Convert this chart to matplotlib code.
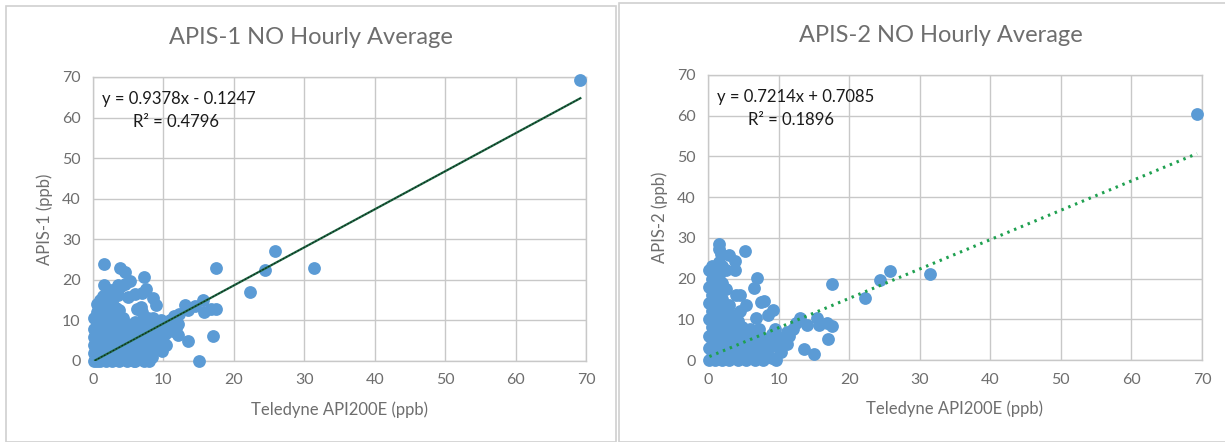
import numpy as np
import matplotlib
matplotlib.use("Agg")
from matplotlib import pyplot as plt
from matplotlib.patches import Rectangle

plt.rcParams["font.family"] = ["Lato", "DejaVu Sans"]

# APIS-1 vs Teledyne, hourly NO (ppb)
apis1_x = [69.2, 25.8, 24.4, 31.4, 22.3, 17.5, 17.0, 15.0, 13.5,
           17.5, 16.8, 15.6, 15.8, 14.5, 13.0, 13.5, 12.2, 11.5, 11.0, 12.0,
           11.3, 12.0, 11.8, 10.5, 10.0, 9.5, 9.8, 8.8, 9.0, 9.5, 8.5, 8.0,
           7.3, 7.9, 7.8, 8.3, 6.5, 5.8, 7.2, 7.5, 7.0, 8.5, 9.0, 6.8, 6.3,
           7.0, 6.0, 5.2, 4.5, 4.0, 3.5, 3.5, 5.0, 4.5, 3.8, 1.6, 1.6, 2.5,
           0.2, 0.2, 0.2, 0.2, 0.2, 0.2,
           0.6, 0.6, 0.6, 0.6, 0.6, 0.6, 0.6,
           1.0, 1.0, 1.0, 1.0, 1.0, 1.0, 1.0,
           1.4, 1.4, 1.4, 1.4, 1.4, 1.4, 1.4,
           1.8, 1.8, 1.8, 1.8, 1.8, 1.8,
           2.2, 2.2, 2.2, 2.2, 2.2, 2.2,
           2.7, 2.7, 2.7, 2.7, 2.7, 2.7,
           3.2, 3.2, 3.2, 3.2, 3.2,
           3.7, 3.7, 3.7, 3.7, 3.7,
           4.2, 4.2, 4.2, 4.2,
           4.8, 4.8, 4.8, 4.8,
           5.3, 5.3, 5.3,
           6.0, 6.0, 6.0, 6.0,
           6.6, 6.6, 6.6,
           7.2, 7.2, 7.2, 7.2,
           7.8, 7.8, 7.8,
           8.4, 8.4, 8.4, 8.4,
           9.0, 9.0, 9.0,
           9.6, 9.6, 9.6,
           10.3, 10.3, 10.3]
apis1_y = [69.2, 27.0, 22.5, 23.0, 17.0, 23.0, 6.2, 0.0, 5.0,
           12.8, 12.7, 15.0, 12.2, 13.5, 13.7, 12.5, 11.5, 11.0, 10.0, 9.0,
           7.5, 6.5, 8.2, 8.0, 6.0, 3.5, 2.5, 5.0, 7.0, 9.5, 10.5, 9.0,
           0.0, 0.0, 1.5, 3.0, 2.0, 0.0, 20.7, 17.8, 16.7, 15.5, 13.9, 13.3, 12.8,
           12.2, 16.5, 19.8, 18.9, 18.5, 18.8, 16.2, 15.7, 22.0, 22.8, 24.0, 18.7, 17.5,
           0.0, 2.0, 4.0, 5.8, 8.0, 10.5,
           0.0, 1.5, 3.0, 6.0, 9.0, 12.0, 14.0,
           0.0, 2.0, 4.0, 7.0, 10.0, 13.0, 15.0,
           1.0, 3.0, 5.5, 8.0, 11.0, 14.0, 16.0,
           0.0, 2.5, 6.0, 9.0, 12.0, 15.5,
           1.0, 4.0, 7.0, 10.0, 13.0, 15.0,
           0.0, 3.0, 6.0, 9.0, 12.0, 14.5,
           1.0, 4.5, 8.0, 11.0, 13.0,
           0.0, 3.0, 6.0, 9.5, 12.5,
           1.5, 5.0, 8.0, 10.5,
           0.0, 3.0, 6.5, 9.0,
           1.0, 4.5, 8.0,
           0.0, 3.0, 6.0, 9.5,
           1.5, 5.0, 8.0,
           0.5, 3.5, 7.0, 9.8,
           2.0, 5.5, 10.5,
           1.0, 4.0, 7.5, 10.0,
           3.0, 6.0, 8.5,
           5.0, 7.5, 10.0,
           4.0, 7.0, 9.0]

# APIS-2 vs Teledyne, hourly NO (ppb)
apis2_x = [69.3, 31.4, 25.8, 24.4, 22.3, 17.5,
           17.6, 17.0, 16.8, 15.7, 15.5, 15.0, 13.6, 14.0, 13.0, 12.5, 12.0,
           11.5, 11.0, 10.5, 10.0, 9.7, 9.5, 9.0, 9.2, 8.5, 8.0, 7.5, 7.0,
           6.5, 6.8, 5.3, 5.4, 4.5, 4.0, 4.5, 3.8, 3.8, 3.0, 1.5, 1.5, 1.8, 2.5,
           0.2, 0.2, 0.2, 0.2, 0.2, 0.2, 0.2,
           0.6, 0.6, 0.6, 0.6, 0.6, 0.6, 0.6,
           1.0, 1.0, 1.0, 1.0, 1.0, 1.0, 1.0,
           1.5, 1.5, 1.5, 1.5, 1.5, 1.5, 1.5,
           2.0, 2.0, 2.0, 2.0, 2.0, 2.0, 2.0,
           2.5, 2.5, 2.5, 2.5, 2.5,
           3.0, 3.0, 3.0, 3.0, 3.0,
           3.6, 3.6, 3.6, 3.6,
           4.2, 4.2, 4.2, 4.2,
           4.8, 4.8, 4.8,
           5.4, 5.4, 5.4,
           6.0, 6.0, 6.0,
           6.6, 6.6, 6.6,
           7.2, 7.2, 7.2,
           7.8, 7.8, 7.8,
           8.4, 8.4,
           9.0, 9.0, 9.0,
           10.4, 10.4,
           11.2, 11.2]
apis2_y = [60.5, 21.2, 21.8, 19.6, 15.2, 18.6,
           8.3, 5.2, 9.2, 8.7, 10.2, 1.4, 2.8, 8.5, 10.2, 9.0, 7.5,
           6.0, 5.0, 4.0, 3.0, 0.0, 7.5, 6.5, 12.2, 11.0, 14.4, 14.2, 20.2,
           17.8, 10.2, 26.8, 13.5, 16.0, 16.0, 12.0, 24.3, 22.0, 25.7, 28.5, 27.2, 26.0, 22.0,
           0.0, 3.0, 6.0, 10.0, 14.0, 18.0, 22.0,
           1.0, 4.0, 8.0, 12.0, 16.0, 20.0, 23.0,
           0.0, 2.5, 6.0, 10.0, 14.0, 18.0, 22.0,
           1.5, 5.0, 9.0, 13.0, 17.0, 21.0, 24.0,
           0.0, 3.5, 7.0, 11.0, 15.0, 19.0, 23.0,
           1.0, 5.0, 9.0, 13.0, 17.5,
           0.0, 3.0, 7.0, 10.5, 13.5,
           1.5, 5.0, 8.5, 11.0,
           0.0, 3.5, 6.5, 9.5,
           1.0, 5.0, 8.0,
           0.0, 3.0, 6.5,
           1.5, 4.5, 7.5,
           0.0, 3.0, 6.0,
           1.0, 4.0, 7.5,
           0.0, 2.5, 5.5,
           1.5, 4.5,
           0.5, 3.5, 6.0,
           2.0, 5.5,
           4.0, 7.0]

# linear trendlines as reported on the charts
slopes = [0.9378, 0.7214]
intercepts = [-0.1247, 0.7085]
r2 = [0.4796, 0.1896]
titles = ["APIS-1 NO Hourly Average", "APIS-2 NO Hourly Average"]
ylabels = ["APIS-1 (ppb)", "APIS-2 (ppb)"]
xlabel = "Teledyne API200E (ppb)"
eq_labels = ["y = 0.9378x - 0.1247", "y = 0.7214x + 0.7085"]
ticks = [0, 10, 20, 30, 40, 50, 60, 70]

blue = "#5B9BD5"
gridc = "#C8C8C8"
textc = "#6E6E6E"

fig = plt.figure(figsize=(12.25, 4.42), dpi=100)

# panel frames (pixels -> figure fraction)
W, H = 1225.0, 442.0
fig.add_artist(Rectangle((6 / W, 0), (616 - 6) / W, 1 - 6 / H,
                         transform=fig.transFigure, fill=False,
                         edgecolor="#D0D0D0", lw=1.2))
fig.add_artist(Rectangle((619 / W, 0), (1226 - 619) / W, 1 - 3 / H,
                         transform=fig.transFigure, fill=False,
                         edgecolor="#D0D0D0", lw=1.2))

axes_pos = [[93 / W, 1 - 361 / H, (586 - 93) / W, (361 - 77) / H],
            [708 / W, 1 - 360 / H, (1202 - 708) / W, (360 - 75) / H]]
xs = [apis1_x, apis2_x]
ys = [apis1_y, apis2_y]
title_x = [311 / W, 941 / W]
title_y = [1 - 38 / H, 1 - 36 / H]

for i in range(2):
    ax = fig.add_axes(axes_pos[i])
    ax.set_xlim(0, 70)
    ax.set_ylim(0, 70)
    ax.set_xticks(ticks)
    ax.set_yticks(ticks)
    ax.grid(True, color=gridc, lw=1.0)
    ax.set_axisbelow(True)
    for s in ax.spines.values():
        s.set_color(gridc)
        s.set_linewidth(1.0)
    ax.tick_params(length=0, labelsize=11.5, labelcolor=textc, pad=9)
    ax.scatter(xs[i], ys[i], s=85, color=blue, lw=0, zorder=3, clip_on=False)

    xmin, xmax = min(xs[i]), max(xs[i])
    if i == 0:
        xmin = 0.3
    lx = np.array([xmin, xmax])
    ly = slopes[i] * lx + intercepts[i]
    if i == 0:
        ax.plot(lx, ly, color="#1E6B45", lw=1.6, zorder=4)
        ax.plot(lx, ly, color="#111111", lw=0.6, ls=(0, (2, 2)), zorder=5)
    else:
        ax.plot(lx, ly, color="#1FA050", lw=2.2, ls=(0, (0.8, 1.6)), zorder=4)

    ax.text(1.3, 64.5, eq_labels[i], fontsize=12, color="#1A1A1A",
            va="center", ha="left")
    ax.text(11.8, 59.0, "R² = %.4f" % r2[i], fontsize=12, color="#1A1A1A",
            va="center", ha="center")
    ax.set_xlabel(xlabel, fontsize=12, color=textc, labelpad=10)
    ax.set_ylabel(ylabels[i], fontsize=12, color=textc, labelpad=6)
    fig.text(title_x[i], title_y[i], titles[i], fontsize=17, color=textc,
             ha="center", va="center")

fig.savefig("out.png", dpi=100)
